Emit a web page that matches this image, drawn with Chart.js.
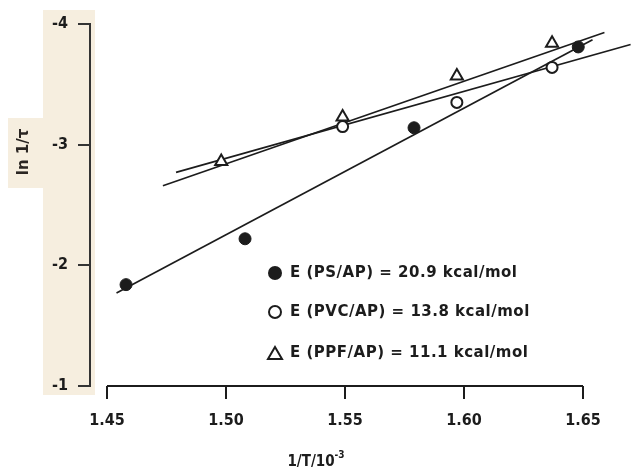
<!DOCTYPE html>
<html>
<head>
<meta charset="utf-8">
<script src="https://cdn.jsdelivr.net/npm/chart.js@4.4.1/dist/chart.umd.min.js"></script>
<style>
html,body{margin:0;padding:0;background:#fff;}
#wrap{width:631px;height:469px;position:relative;}
</style>
</head>
<body>
<div id="wrap"><canvas id="c"></canvas></div>
<script>
// puntos (1/T en 10^-3, ln 1/tau)
const psX  = [1.458, 1.508, 1.579, 1.648];
const psY  = [-1.84, -2.22, -3.14, -3.81];
const pvcX = [1.549, 1.597, 1.637];
const pvcY = [-3.15, -3.35, -3.64];
const ppfX = [1.498, 1.549, 1.597, 1.637];
const ppfY = [-2.86, -3.23, -3.57, -3.84];

// rectas de ajuste (extremos dibujados)
const psFitX  = [1.454, 1.654];
const psFitY  = [-1.77, -3.87];
const pvcFitX = [1.479, 1.670];
const pvcFitY = [-2.77, -3.83];
const ppfFitX = [1.4735, 1.659];
const ppfFitY = [-2.66, -3.93];

const xTicks = [1.45, 1.50, 1.55, 1.60, 1.65];
const yTicks = [-4, -3, -2, -1];
const legendLabels = ["E (PS/AP) = 20.9 kcal/mol", "E (PVC/AP) = 13.8 kcal/mol", "E (PPF/AP) = 11.1 kcal/mol"];
const xTitle = "1/T/10";
const xTitleSup = "-3";
const yTitle = "ln 1/τ";

const INK = "#1c1c1c";
const NARROW = "'Liberation Sans Narrow', 'DejaVu Sans Condensed', 'DejaVu Sans', sans-serif";
const BOLD = "'DejaVu Sans', sans-serif";

const pts = (xs, ys) => xs.map((x, i) => ({ x: x, y: ys[i] }));

function fitLine(xs, ys) {
  return { data: pts(xs, ys), showLine: true, borderColor: INK, borderWidth: 1.7,
           pointRadius: 0, clip: false, order: 2 };
}

// fondo beige del escaneo, ejes y textos fuera de la escala
const paper = {
  id: "paper",
  beforeDraw(chart) {
    const ctx = chart.ctx, a = chart.chartArea;
    ctx.save();
    ctx.fillStyle = "#f6eedf";
    ctx.fillRect(43, 10, a.left + 5 - 43, a.bottom + 9 - 10);
    ctx.fillRect(8, 118, 36, 70);
    ctx.restore();
  },
  afterDraw(chart) {
    const ctx = chart.ctx, a = chart.chartArea, x = chart.scales.x;
    ctx.save();
    // eje x: solo de 1.45 a 1.65
    ctx.strokeStyle = INK; ctx.lineWidth = 2;
    ctx.beginPath();
    ctx.moveTo(x.getPixelForValue(xTicks[0]), a.bottom);
    ctx.lineTo(x.getPixelForValue(xTicks[xTicks.length - 1]), a.bottom);
    ctx.stroke();

    // titulo x
    ctx.fillStyle = INK;
    ctx.font = "bold 15px " + NARROW;
    ctx.textBaseline = "alphabetic";
    const w1 = ctx.measureText(xTitle).width;
    ctx.font = "bold 10px " + NARROW;
    const w2 = ctx.measureText(xTitleSup).width;
    const x0 = 316 - (w1 + w2) / 2;
    ctx.font = "bold 15px " + NARROW;
    ctx.fillText(xTitle, x0, 466);
    ctx.font = "bold 10px " + NARROW;
    ctx.fillText(xTitleSup, x0 + w1, 458);

    // titulo y
    ctx.translate(24, 152);
    ctx.rotate(-Math.PI / 2);
    ctx.font = "bold 15px " + BOLD;
    ctx.fillStyle = "#2a2522";
    ctx.textAlign = "center";
    ctx.textBaseline = "middle";
    ctx.fillText(yTitle, 0, 0);
    ctx.restore();

    // leyenda
    const rows = [273, 312, 353];
    const mx = 275;
    ctx.save();
    ctx.strokeStyle = INK; ctx.fillStyle = INK; ctx.lineWidth = 2;
    ctx.beginPath(); ctx.arc(mx, rows[0], 7, 0, Math.PI * 2); ctx.fill();
    ctx.beginPath(); ctx.arc(mx, rows[1], 6, 0, Math.PI * 2); ctx.stroke();
    ctx.beginPath();
    ctx.moveTo(mx, rows[2] - 6); ctx.lineTo(mx + 7, rows[2] + 6); ctx.lineTo(mx - 7, rows[2] + 6);
    ctx.closePath(); ctx.stroke();
    ctx.font = "bold 15px " + BOLD;
    ctx.letterSpacing = "0.5px";
    ctx.textBaseline = "middle";
    legendLabels.forEach((t, i) => ctx.fillText(t, 290, rows[i]));
    ctx.restore();
  }
};

new Chart(document.getElementById("c"), {
  type: "scatter",
  data: {
    datasets: [
      { data: pts(psX, psY), pointStyle: "circle", pointRadius: 6, backgroundColor: INK,
        borderColor: INK, borderWidth: 1, clip: false, order: 1 },
      { data: pts(pvcX, pvcY), pointStyle: "circle", pointRadius: 5.5, backgroundColor: "#fff",
        borderColor: INK, borderWidth: 2, clip: false, order: 1 },
      { data: pts(ppfX, ppfY), pointStyle: "triangle", pointRadius: 7, backgroundColor: "#fff",
        borderColor: INK, borderWidth: 2, clip: false, order: 1 },
      fitLine(psFitX, psFitY),
      fitLine(pvcFitX, pvcFitY),
      fitLine(ppfFitX, ppfFitY)
    ]
  },
  options: {
    responsive: true,
    maintainAspectRatio: false,
    animation: false,
    events: [],
    layout: { padding: { top: 24, right: 48, bottom: 0, left: 0 } },
    scales: {
      x: {
        type: "linear",
        min: 1.44286, max: 1.65,
        afterBuildTicks: s => { s.ticks = xTicks.map(v => ({ value: v })); },
        afterFit: s => { s.height = 83; },
        ticks: { callback: v => v.toFixed(2), color: INK, padding: 12, maxRotation: 0, autoSkip: false,
                 font: { family: NARROW, size: 16, weight: "bold" } },
        grid: { display: true, drawOnChartArea: false, drawTicks: true, tickLength: 13, color: INK, lineWidth: 2 },
        border: { display: false }
      },
      y: {
        type: "linear",
        min: -4, max: -1, reverse: true,
        afterBuildTicks: s => { s.ticks = yTicks.map(v => ({ value: v })); },
        afterFit: s => { s.width = 90; },
        ticks: { callback: v => String(v), color: INK, padding: 10,
                 font: { family: NARROW, size: 16, weight: "bold" } },
        grid: { display: true, drawOnChartArea: false, drawTicks: true, tickLength: 12, color: "#333", lineWidth: 2 },
        border: { display: true, color: "#333", width: 2 }
      }
    },
    plugins: { legend: { display: false }, tooltip: { enabled: false } }
  },
  plugins: [paper]
});
</script>
</body>
</html>
